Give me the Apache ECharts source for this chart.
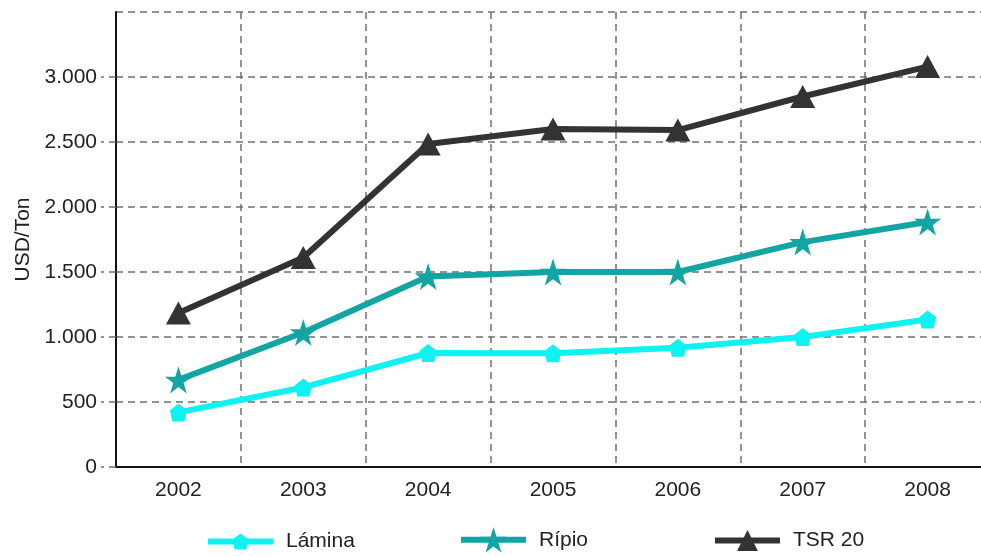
<!DOCTYPE html>
<html><head><meta charset="utf-8">
<script src="https://cdn.jsdelivr.net/npm/echarts@6/dist/echarts.min.js"></script>
<style>html,body{margin:0;padding:0;background:#fff}#c{width:981px;height:556px}</style>
</head><body><div id="c"></div>
<script>
const years = ['2002','2003','2004','2005','2006','2007','2008'];
const lamina = [420, 612, 877, 875, 918, 1000, 1135];
const ripio = [670, 1035, 1465, 1500, 1500, 1730, 1885];
const tsr20 = [1185, 1612, 2485, 2600, 2592, 2850, 3080];
const seriesNames = ['Lámina', 'Rípio', 'TSR 20'];
const yAxisName = 'USD/Ton';

const FONT = '"Liberation Sans", Arial, sans-serif';
const FS = 21;
const TXT = '#222';
const GRIDC = '#707070';
const colors = ['#10f2f2', '#13a4a4', '#333333'];
const pent = 'path://M5,0 L10,3.8 L8.6,10 L1.4,10 L0,3.8 Z';
const star = 'path://M50,0 L61.8,36.2 L100,36.2 L69.1,58.8 L80.9,95 L50,72.6 L19.1,95 L30.9,58.8 L0,36.2 L38.2,36.2 Z';

function fmt(v){ return String(v).replace(/\B(?=(\d{3})+(?!\d))/g, '.'); }

const chart = echarts.init(document.getElementById('c'), null, {renderer:'canvas'});
function mkLegend(name, left, h, top){
  return {
    data:[name], left:left, top:top, itemWidth:65, itemHeight:h, padding:0,
    lineStyle:{width:6},
    textStyle:{fontFamily:FONT, fontSize:FS, color:TXT, padding:[0,0,0,8]},
    selectedMode:false
  };
}
chart.setOption({
  backgroundColor:'#fff',
  animation:false,
  color: colors,
  legend:[mkLegend(seriesNames[0],205,20,531), mkLegend(seriesNames[1],458,32,527), mkLegend(seriesNames[2],712,26,530)],
  grid:{left:116, right:-9, top:12, bottom:89, outerBoundsMode:'none', containLabel:false},
  xAxis:{
    type:'category', data:years, boundaryGap:true,
    axisLine:{show:true, lineStyle:{color:'#111', width:2}},
    axisTick:{show:false},
    axisLabel:{fontFamily:FONT, fontSize:FS, color:TXT, margin:13},
    splitLine:{show:true, interval:0, lineStyle:{color:GRIDC, type:[7,5], width:1.5}}
  },
  yAxis:{
    type:'value', min:0, max:3500, interval:500,
    name:yAxisName, nameLocation:'middle', nameGap:70,
    nameTextStyle:{fontFamily:FONT, fontSize:FS, color:TXT},
    axisLine:{show:true, lineStyle:{color:'#111', width:2}},
    axisTick:{show:true, length:15, lineStyle:{color:GRIDC, type:[7,5], width:1.5}},
    axisLabel:{fontFamily:FONT, fontSize:FS, color:TXT, margin:19, showMaxLabel:false, formatter:fmt},
    splitLine:{show:true, lineStyle:{color:GRIDC, type:[7,5], width:1.5}}
  },
  series:[
    {name:seriesNames[0], type:'line', data:lamina, symbol:pent, symbolSize:[17,18], z:3,
     lineStyle:{width:6, color:colors[0]}, itemStyle:{color:colors[0]}},
    {name:seriesNames[1], type:'line', data:ripio, symbol:star, symbolSize:[27,27], z:4,
     lineStyle:{width:6, color:colors[1]}, itemStyle:{color:colors[1]}},
    {name:seriesNames[2], type:'line', data:tsr20, symbol:'triangle', symbolSize:[25,23], z:5,
     lineStyle:{width:6, color:colors[2]}, itemStyle:{color:colors[2]}}
  ]
});
</script></body></html>
